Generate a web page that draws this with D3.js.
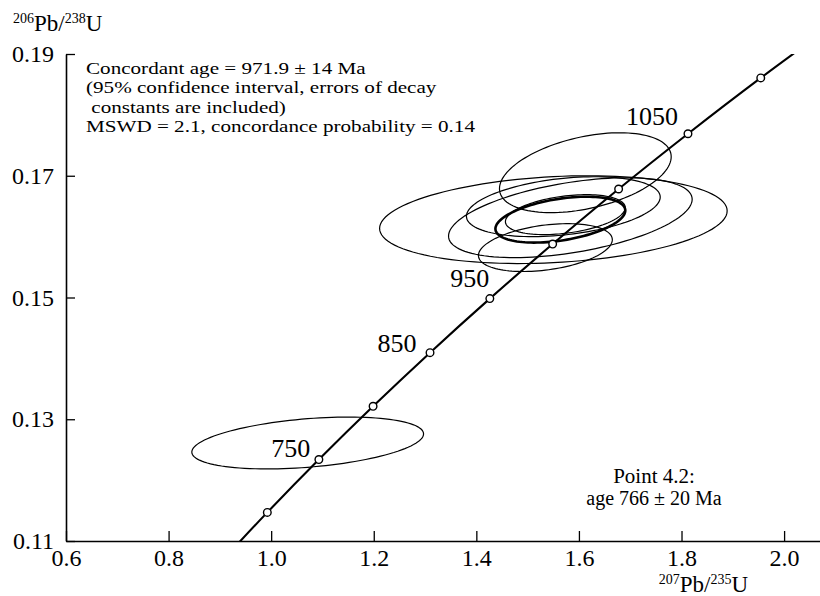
<!DOCTYPE html>
<html>
<head>
<style>
body { margin: 0; background: #fff; }
svg { display: block; }
text { font-family: "Liberation Serif", "Times New Roman", serif; fill: #000; }
</style>
</head>
<body>
<div id="chart"></div>
<script src="https://d3js.org/d3.v7.min.js"></script>
<script>
// concordia: age (Ma) with its 207Pb/235U and 206Pb/238U ratios
var ages    = [650, 700, 750, 800, 850, 900, 950, 1000, 1050, 1100, 1150]
var r207    = [0.8969, 0.9925, 1.0930, 1.1987, 1.3097, 1.4263, 1.5488, 1.6774, 1.8126, 1.9545, 2.1037]
var r206    = [0.10609, 0.11470, 0.12338, 0.13213, 0.14094, 0.14982, 0.15878, 0.16782, 0.17690, 0.18607, 0.19530]
var markerAges = [700, 750, 800, 850, 900, 950, 1000, 1050, 1100]
var labelAges  = [750, 850, 950, 1050]

// error ellipses: centre, half-extent in x and y, correlation
var ellX   = [1.6125, 1.5502, 1.5833, 1.5696, 1.5735, 1.5346, 1.5638, 1.0712]
var ellY   = [0.1705, 0.16279, 0.16311, 0.16492, 0.16361, 0.15820, 0.16279, 0.1261]
var ellSx  = [0.1674, 0.3388, 0.2375, 0.1889, 0.1168, 0.1305, 0.1266, 0.2259]
var ellSy  = [0.00656, 0.00721, 0.00656, 0.00492, 0.00328, 0.00393, 0.00377, 0.00426]
var ellRho = [0.4, 0.2, 0.46, 0.32, 0.35, 0.33, 0.4, 0.35]
var concordant = 6   // the bold one

var xTicks = [0.6, 0.8, 1.0, 1.2, 1.4, 1.6, 1.8, 2.0]
var yTicks = [0.11, 0.13, 0.15, 0.17, 0.19]

var width = 820, height = 596

var svg = d3.select("#chart").append("svg")
  .attr("width", width)
  .attr("height", height)

var x = d3.scaleLinear().domain([0.6, 2.07]).range([66, 820])
var y = d3.scaleLinear().domain([0.11, 0.19]).range([541, 54])

svg.append("clipPath").attr("id", "plot")
  .append("rect").attr("x", 66).attr("y", 54).attr("width", 754).attr("height", 487)

// axes
var xAxis = d3.axisBottom(x).tickValues(xTicks).tickSizeInner(-10).tickSizeOuter(0)
  .tickFormat(d3.format(".1f")).tickPadding(8)
var gx = svg.append("g").attr("transform", "translate(0,541)").call(xAxis)
gx.attr("font-family", null)
gx.selectAll("text").style("font-size", "24px")
gx.select(".domain").attr("stroke-width", 1.6)
gx.selectAll(".tick line").attr("stroke-width", 1.3)

var yAxis = d3.axisLeft(y).tickValues(yTicks).tickSizeInner(-9).tickSizeOuter(0)
  .tickFormat(d3.format(".2f")).tickPadding(12)
var gy = svg.append("g").attr("transform", "translate(66,0)").call(yAxis)
gy.attr("font-family", null)
gy.selectAll("text").style("font-size", "24px")
gy.select(".domain").attr("stroke-width", 1.6)
gy.selectAll(".tick line").attr("stroke-width", 1.3)

// axis titles
function ratioTitle(t, a, b) {
  t.append("tspan").text(a).style("font-size", "14px").attr("dy", -8)
  t.append("tspan").text("Pb/").attr("dy", 8)
  t.append("tspan").text(b).style("font-size", "14px").attr("dy", -8)
  t.append("tspan").text("U").attr("dy", 8)
}
ratioTitle(svg.append("text").attr("x", 13).attr("y", 31).style("font-size", "23px"), "206", "238")
ratioTitle(svg.append("text").attr("x", 748).attr("y", 592).attr("text-anchor", "end")
  .style("font-size", "23px"), "207", "235")

// ellipses
var line = d3.line().x(function(d){ return x(d[0]) }).y(function(d){ return y(d[1]) })
  .curve(d3.curveLinearClosed)
function ellipsePts(i) {
  var pts = [], s = Math.sqrt(1 - ellRho[i] * ellRho[i])
  for (var k = 0; k < 120; k++) {
    var t = k / 120 * 2 * Math.PI
    pts.push([ellX[i] + ellSx[i] * Math.cos(t),
              ellY[i] + ellSy[i] * (ellRho[i] * Math.cos(t) + s * Math.sin(t))])
  }
  return pts
}
svg.append("g").selectAll("path")
  .data(d3.range(ellX.length))
  .enter().append("path")
    .attr("d", function(i){ return line(ellipsePts(i)) })
    .attr("fill", "none")
    .attr("stroke", "#000")
    .attr("stroke-width", function(i){ return i === concordant ? 2.6 : 1.2 })

// concordia curve
var curve = d3.line().x(function(d, i){ return x(r207[i]) }).y(function(d, i){ return y(r206[i]) })
  .curve(d3.curveCatmullRom)
svg.append("path")
  .attr("clip-path", "url(#plot)")
  .attr("d", curve(ages))
  .attr("fill", "none")
  .attr("stroke", "#000")
  .attr("stroke-width", 2.1)

svg.append("g").selectAll("circle")
  .data(markerAges)
  .enter().append("circle")
    .attr("cx", function(a){ return x(r207[ages.indexOf(a)]) })
    .attr("cy", function(a){ return y(r206[ages.indexOf(a)]) })
    .attr("r", 3.8)
    .attr("fill", "#fff")
    .attr("stroke", "#000")
    .attr("stroke-width", 1.4)

// age labels, offset from their marker
var labelOff = {750: [-28, -3], 850: [-33, -1], 950: [-83, 43], 1050: [-36, -9]}
svg.append("g").selectAll("text")
  .data(labelAges)
  .enter().append("text")
    .attr("x", function(a){ return x(r207[ages.indexOf(a)]) + labelOff[a][0] })
    .attr("y", function(a){ return y(r206[ages.indexOf(a)]) + labelOff[a][1] })
    .attr("text-anchor", "middle")
    .style("font-size", "26px")
    .text(function(a){ return a })

// annotations (the source lettering is stretched sideways)
var notes = ["Concordant age = 971.9 \u00b1 14 Ma",
             "(95% confidence interval, errors of decay",
             "\u00a0constants are included)",
             "MSWD = 2.1, concordance probability = 0.14"]
svg.append("g").selectAll("text")
  .data(notes)
  .enter().append("text")
    .attr("transform", function(d, i){ return "translate(86," + (74 + i * 19.3) + ") scale(1.28,1)" })
    .style("font-size", "16.5px")
    .text(function(d){ return d })

svg.append("text").attr("x", 654).attr("y", 483).attr("text-anchor", "middle")
  .style("font-size", "21px").text("Point 4.2:")
svg.append("text").attr("x", 654).attr("y", 505).attr("text-anchor", "middle")
  .style("font-size", "20px").text("age 766 \u00b1 20 Ma")
</script>
</body>
</html>
